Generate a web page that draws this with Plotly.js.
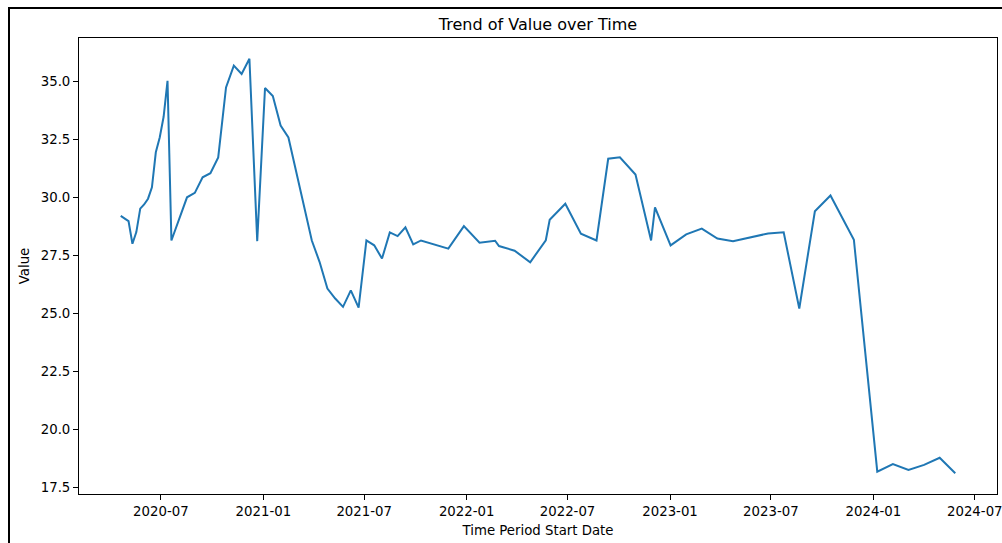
<!DOCTYPE html>
<html>
<head>
<meta charset="utf-8">
<script src="https://cdn.plot.ly/plotly-3.0.1.min.js"></script>
<style>
  html, body { margin: 0; padding: 0; background: #fff; }
  #wrap { position: relative; width: 1002px; height: 543px; overflow: hidden; }
  #chart { position: absolute; left: 0; top: 0; width: 1002px; height: 543px; }
  #frame { position: absolute; left: 8px; top: 7px; width: 1100px; height: 700px;
           border-left: 2px solid #000; border-top: 2px solid #000; pointer-events: none; }
</style>
</head>
<body>
<div id="wrap">
  <div id="chart"></div>
  <div id="frame"></div>
</div>
<script>
// Time period start dates
const dates = [
  '2020-04-20','2020-05-04','2020-05-11','2020-05-18','2020-05-25','2020-06-01','2020-06-08','2020-06-15',
  '2020-06-22','2020-06-29','2020-07-06','2020-07-13','2020-07-20','2020-08-17','2020-08-31','2020-09-14',
  '2020-09-28','2020-10-12','2020-10-26','2020-11-09','2020-11-23','2020-12-07','2020-12-21','2021-01-04',
  '2021-01-18','2021-02-01','2021-02-15','2021-03-29','2021-04-12','2021-04-26','2021-05-10','2021-05-24',
  '2021-06-07','2021-06-21','2021-07-05','2021-07-19','2021-08-02','2021-08-16','2021-08-30','2021-09-13',
  '2021-09-27','2021-10-11','2021-11-29','2021-12-27','2022-01-24','2022-02-21','2022-02-28','2022-03-28',
  '2022-04-25','2022-05-23','2022-05-30','2022-06-27','2022-07-25','2022-08-22','2022-09-12','2022-10-03',
  '2022-10-31','2022-11-28','2022-12-05','2023-01-02','2023-01-30','2023-02-27','2023-03-27','2023-04-24',
  '2023-06-26','2023-07-24','2023-08-21','2023-09-18','2023-10-16','2023-11-27','2024-01-08','2024-02-05',
  '2024-03-04','2024-04-01','2024-04-29','2024-05-27'
];
// Values
const values = [
  29.20, 28.97, 28.00, 28.50, 29.51, 29.69, 29.94, 30.43,
  31.94, 32.58, 33.47, 35.02, 28.14, 30.00, 30.19, 30.86,
  31.04, 31.72, 34.73, 35.67, 35.31, 35.97, 28.11, 34.71,
  34.36, 33.09, 32.58, 28.14, 27.21, 26.07, 25.64, 25.28,
  25.99, 25.25, 28.14, 27.93, 27.36, 28.49, 28.33, 28.71,
  27.97, 28.14, 27.79, 28.76, 28.04, 28.13, 27.90, 27.70,
  27.20, 28.15, 29.03, 29.72, 28.43, 28.14, 31.66, 31.72,
  30.98, 28.14, 29.57, 27.93, 28.40, 28.65, 28.22, 28.11,
  28.44, 28.49, 25.21, 29.40, 30.08, 28.17, 18.18, 18.51,
  18.25, 18.47, 18.78, 18.11
];
const chartTitle = 'Trend of Value over Time';
const xLabel = 'Time Period Start Date';
const yLabel = 'Value';

// matplotlib-like 5% auto margins computed from the data
const tms = dates.map(d => new Date(d + 'T00:00:00Z').getTime());
const tMin = Math.min(...tms), tMax = Math.max(...tms);
const tPad = (tMax - tMin) * 0.05;
const fmt = t => new Date(t).toISOString().replace('T', ' ').replace('Z', '');
const vMin = Math.min(...values), vMax = Math.max(...values);
const vPad = (vMax - vMin) * 0.05;

const font = {family: 'DejaVu Sans, sans-serif', color: '#000'};

const trace = {
  x: dates, y: values, type: 'scatter', mode: 'lines',
  line: {color: '#1f77b4', width: 2}, hoverinfo: 'skip'
};

const axisCommon = {
  showline: true, linecolor: '#000', linewidth: 1, mirror: true,
  ticks: 'outside', ticklen: 5, tickwidth: 1, tickcolor: '#000',
  showgrid: false, zeroline: false, ticklabeloverflow: 'allow',
  tickfont: {family: font.family, size: 13.3, color: '#000'}
};

const layout = {
  width: 1002, height: 543,
  paper_bgcolor: '#fff', plot_bgcolor: '#fff',
  margin: {l: 79, r: 5, t: 38, b: 49, autoexpand: false},
  showlegend: false,
  title: {text: chartTitle, font: {family: font.family, size: 16, color: '#000'},
          x: 0.5, xref: 'paper', xanchor: 'center', y: 1, yref: 'paper', yanchor: 'bottom', pad: {b: 8}},
  xaxis: Object.assign({}, axisCommon, {
    type: 'date', range: [fmt(tMin - tPad), fmt(tMax + tPad)],
    tick0: '2020-01-01', dtick: 'M6', tickformat: '%Y-%m',
    title: {text: xLabel, font: {family: font.family, size: 13.3, color: '#000'}, standoff: 7}
  }),
  yaxis: Object.assign({}, axisCommon, {
    range: [vMin - vPad, vMax + vPad],
    tick0: 0, dtick: 2.5, tickformat: '.1f',
    title: {text: yLabel, font: {family: font.family, size: 13.3, color: '#000'}, standoff: 8}
  })
};

Plotly.newPlot('chart', [trace], layout, {staticPlot: true, displayModeBar: false});
</script>
</body>
</html>
